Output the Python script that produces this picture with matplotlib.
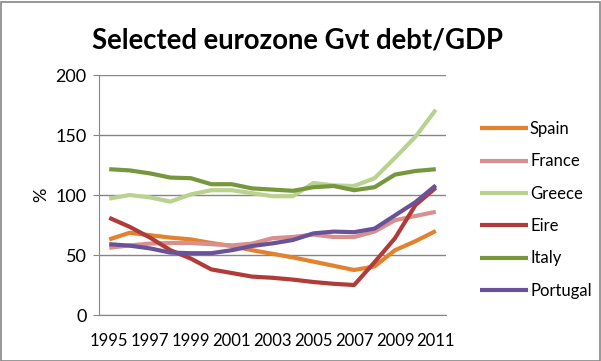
import matplotlib
matplotlib.use("Agg")
import matplotlib.pyplot as plt
from matplotlib.patches import Rectangle

years = list(range(1995, 2012))
spain = [63, 68.5, 66.5, 64.5, 63, 60, 57.5, 54, 51, 48, 44.5, 41, 37.5, 40.5, 54, 61.5, 70]
france = [56, 58, 59.5, 60, 60, 59, 58, 59.5, 64, 65, 67, 65, 65, 69.5, 79, 82.5, 86]
greece = [97, 100, 98, 94.5, 100.5, 104, 104, 101.5, 99, 99, 110, 108, 107.5, 114, 131, 148.5, 171]
eire = [81, 73.5, 64.5, 54, 47, 38, 35, 32, 31, 29.5, 27.5, 26, 25, 44, 64, 91.5, 106]
italy = [121.5, 120.5, 118, 114.5, 114, 109, 109, 105.5, 104.5, 103.5, 106.5, 107.5, 104, 106.5, 117, 120, 121.5]
portugal = [59, 57.8, 55.5, 52, 51.5, 51.5, 54, 57.5, 59.7, 62.5, 68, 69.5, 69, 72, 83, 94, 108]

series = [("Spain", spain, "#E3822E"),
          ("France", france, "#D8908F"),
          ("Greece", greece, "#B9D28F"),
          ("Eire", eire, "#B13B38"),
          ("Italy", italy, "#77973C"),
          ("Portugal", portugal, "#6A5298")]

yticks = [0, 50, 100, 150, 200]
xtick_labels = [str(y) for y in years[::2]]

plt.rcParams['font.family'] = ['Lato', 'DejaVu Sans']

fig = plt.figure(figsize=(6.01, 3.61), dpi=100)
ax = fig.add_axes([99/601, 1-315/361, (446-99)/601, (315-75)/361])

x = list(range(len(years)))
for name, vals, col in series:
    ax.plot(x, vals, color=col, lw=3, label=name, solid_capstyle='butt', solid_joinstyle='round')

ax.set_xlim(-0.5, len(years)-0.5)
ax.set_ylim(0, 200)
ax.set_yticks(yticks)
ax.yaxis.grid(True, color="#868686", lw=1)
ax.set_axisbelow(True)
ax.set_xticks(x[::2])
ax.set_xticklabels(xtick_labels)
for s in ["top", "right"]:
    ax.spines[s].set_visible(False)
for s in ["left", "bottom"]:
    ax.spines[s].set_color("#868686")
ax.tick_params(axis='y', length=4, color="#868686", labelsize=13, pad=5)
ax.tick_params(axis='x', length=0, labelsize=12, pad=13)
ax.set_ylabel("%", fontsize=13, labelpad=4)

fig.text(298/601, 1-40/361, "Selected eurozone Gvt debt/GDP", ha='center', va='center',
         fontsize=19.8, fontweight='bold')

leg = ax.legend(loc='upper left', bbox_to_anchor=(465/601, 1-106/361), bbox_transform=fig.transFigure,
                frameon=False, fontsize=12, handlelength=2.9, handletextpad=0.1, labelspacing=0.98)

fig.patches.append(Rectangle((0.5/601, 0.5/361), 599.5/601, 359/361, transform=fig.transFigure,
                             fill=False, edgecolor="#868686", lw=1.2))

fig.savefig("out.png", dpi=100)
